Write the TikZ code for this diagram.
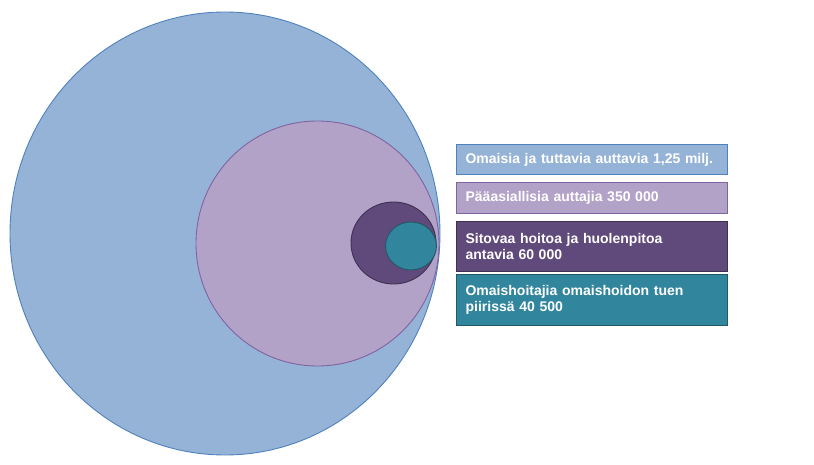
\documentclass[tikz,border=0pt]{standalone}
\usepackage{fontspec}
\setmainfont{Liberation Sans}
\usetikzlibrary{positioning, shapes.geometric}
\definecolor{bluefill}{HTML}{95B3D7}
\definecolor{blueline}{HTML}{4F81BD}
\definecolor{lilacfill}{HTML}{B3A2C7}
\definecolor{lilacline}{HTML}{8064A2}
\definecolor{plumfill}{HTML}{604A7B}
\definecolor{plumline}{HTML}{3F3151}
\definecolor{tealfill}{HTML}{31859C}
\definecolor{tealline}{HTML}{215968}

\begin{document}
\begin{tikzpicture}[
      x = 1pt,
      y = -1pt,
      ring/.style = {ellipse, draw, line width = 0.9pt, inner sep = 0pt},
      legend/.style = {rectangle, draw, line width = 1.2pt, anchor = north west,
        minimum width = 271pt, text width = 253pt, align = left, inner xsep = 9pt,
        text = white, font = \fontsize{14}{16}\selectfont\bfseries}]

      \useasboundingbox (0,0) rectangle (814,465);

      % nested circles
      \node [ring, fill = bluefill, draw = blueline,
        minimum width = 430pt, minimum height = 443pt] (all) at (225,233.5) {};
      \node [ring, fill = lilacfill, draw = lilacline,
        minimum width = 243pt, minimum height = 245pt] (main) at (317.5,243.5) {};
      \node [ring, fill = plumfill, draw = plumline,
        minimum width = 85pt, minimum height = 82pt] (care) at (393.5,243) {};
      \node [ring, fill = tealfill, draw = tealline,
        minimum width = 51pt, minimum height = 48pt] (support) at (411,246) {};

      % legend
      \node [legend, fill = bluefill, draw = blueline, minimum height = 30pt]
        (allbox) at (456,144) {Omaisia ja tuttavia auttavia 1,25 milj.};
      \node [legend, fill = lilacfill, draw = lilacline, minimum height = 31pt]
        (mainbox) at (456,182) {Pääasiallisia auttajia 350 000};
      \node [legend, fill = plumfill, draw = plumline, minimum height = 50pt]
        (carebox) at (456,221) {Sitovaa hoitoa ja huolenpitoa\\antavia 60 000};
      \node [legend, fill = tealfill, draw = tealline, minimum height = 51pt]
        (supportbox) at (456,274) {Omaishoitajia omaishoidon tuen\\piirissä 40 500};
  \end{tikzpicture}
\end{document}
